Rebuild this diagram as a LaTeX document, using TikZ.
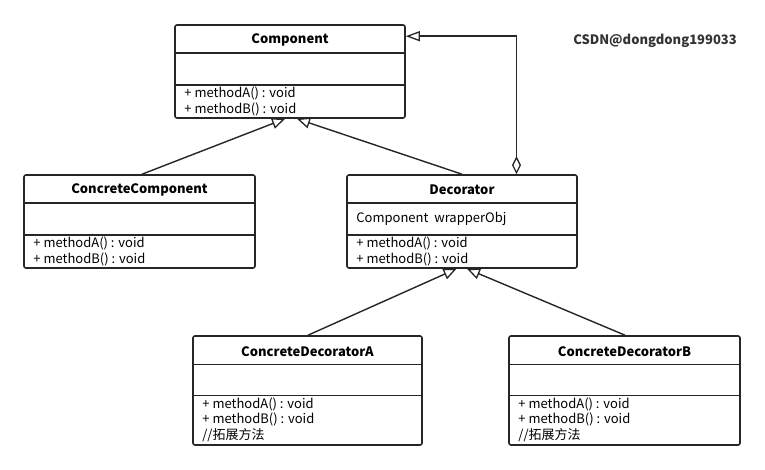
\documentclass[tikz,border=0pt]{standalone}
\usepackage{fontspec}
\setmainfont{Noto Sans CJK SC}
\usetikzlibrary{arrows.meta,calc}
\begin{document}
\begin{tikzpicture}[x=1pt,y=-1pt,
  cls/.style={draw=black!85,line width=1.6pt,rounded corners=2pt,fill=white,inner sep=0pt},
  sep/.style={draw=black!85,line width=1.4pt},
  title/.style={font=\fontsize{13}{15}\selectfont\bfseries,inner sep=0pt},
  txt/.style={font=\fontsize{13}{15}\selectfont,inner sep=0pt,anchor=west},
  rel/.style={draw=black!85,line width=1.4pt},
  gen/.style={rel,-{Triangle[open,length=13pt,width=11pt,line width=1.3pt]}},
  agg/.style={rel,{Diamond[open,length=18pt,width=9pt,line width=1.3pt]}-{Triangle[open,length=14pt,width=10pt,line width=1.3pt]}}
]
\useasboundingbox (0,0) rectangle (765,470);
\fill[white] (0,0) rectangle (765,470);

% Component
\node[cls,minimum width=230pt,minimum height=93pt] (comp) at (290,71.5) {};
\draw[sep] ($(comp.north west)+(0,29)$) -- ($(comp.north east)+(0,29)$);
\draw[sep] ($(comp.north west)+(0,61)$) -- ($(comp.north east)+(0,61)$);
\node[title] (compT) at ($(comp.north)+(0,15.5)$) {Component};
\node[txt] (compM1) at ($(comp.north west)+(10,69.5)$) {+ methodA() : void};
\node[txt] (compM2) at ($(comp.north west)+(10,85)$) {+ methodB() : void};

% ConcreteComponent
\node[cls,minimum width=231pt,minimum height=93pt] (cc) at (139.5,221.5) {};
\draw[sep] ($(cc.north west)+(0,29)$) -- ($(cc.north east)+(0,29)$);
\draw[sep] ($(cc.north west)+(0,61)$) -- ($(cc.north east)+(0,61)$);
\node[title] (ccT) at ($(cc.north)+(0,15.5)$) {ConcreteComponent};
\node[txt] (ccM1) at ($(cc.north west)+(10,69.5)$) {+ methodA() : void};
\node[txt] (ccM2) at ($(cc.north west)+(10,85)$) {+ methodB() : void};

% Decorator
\node[cls,minimum width=230pt,minimum height=93pt] (dec) at (462,221.5) {};
\draw[sep] ($(dec.north west)+(0,29)$) -- ($(dec.north east)+(0,29)$);
\draw[sep] ($(dec.north west)+(0,61)$) -- ($(dec.north east)+(0,61)$);
\node[title] (decT) at ($(dec.north)+(0,15.5)$) {Decorator};
\node[txt] (decA) at ($(dec.north west)+(10,44.5)$) {Component\ \ wrapperObj};
\node[txt] (decM1) at ($(dec.north west)+(10,69.5)$) {+ methodA() : void};
\node[txt] (decM2) at ($(dec.north west)+(10,85)$) {+ methodB() : void};

% ConcreteDecoratorA
\node[cls,minimum width=229pt,minimum height=109pt] (cda) at (307.5,390.5) {};
\draw[sep] ($(cda.north west)+(0,29)$) -- ($(cda.north east)+(0,29)$);
\draw[sep] ($(cda.north west)+(0,60)$) -- ($(cda.north east)+(0,60)$);
\node[title] (cdaT) at ($(cda.north)+(0,16)$) {ConcreteDecoratorA};
\node[txt] (cdaM1) at ($(cda.north west)+(10,69)$) {+ methodA() : void};
\node[txt] (cdaM2) at ($(cda.north west)+(10,84.5)$) {+ methodB() : void};
\node[txt] (cdaM3) at ($(cda.north west)+(10,100)$) {//拓展方法};

% ConcreteDecoratorB
\node[cls,minimum width=231pt,minimum height=109pt] (cdb) at (624.5,390.5) {};
\draw[sep] ($(cdb.north west)+(0,29)$) -- ($(cdb.north east)+(0,29)$);
\draw[sep] ($(cdb.north west)+(0,60)$) -- ($(cdb.north east)+(0,60)$);
\node[title] (cdbT) at ($(cdb.north)+(0,16)$) {ConcreteDecoratorB};
\node[txt] (cdbM1) at ($(cdb.north west)+(10,69)$) {+ methodA() : void};
\node[txt] (cdbM2) at ($(cdb.north west)+(10,84.5)$) {+ methodB() : void};
\node[txt] (cdbM3) at ($(cdb.north west)+(10,100)$) {//拓展方法};

% watermark
\node[font=\fontsize{13}{15}\selectfont\bfseries,text=black!80,inner sep=0pt] (wm) at (655,41) {CSDN@dongdong199033};

% relations
\draw[gen] ($(cc.north)+(2.5,0)$) -- ($(comp.south)+(-5,0)$);
\draw[gen] ($(dec.north)+(0,0)$) -- ($(comp.south)+(7,0)$);
\draw[gen] ($(cda.north)+(0.5,0)$) -- ($(dec.south)+(-5.5,0)$);
\draw[gen] ($(cdb.north)+(0.5,0)$) -- ($(dec.south)+(5,0)$);
\draw[agg] ($(dec.north)+(54.5,0)$) |- ($(comp.north east)+(0,12)$);
\end{tikzpicture}
\end{document}
